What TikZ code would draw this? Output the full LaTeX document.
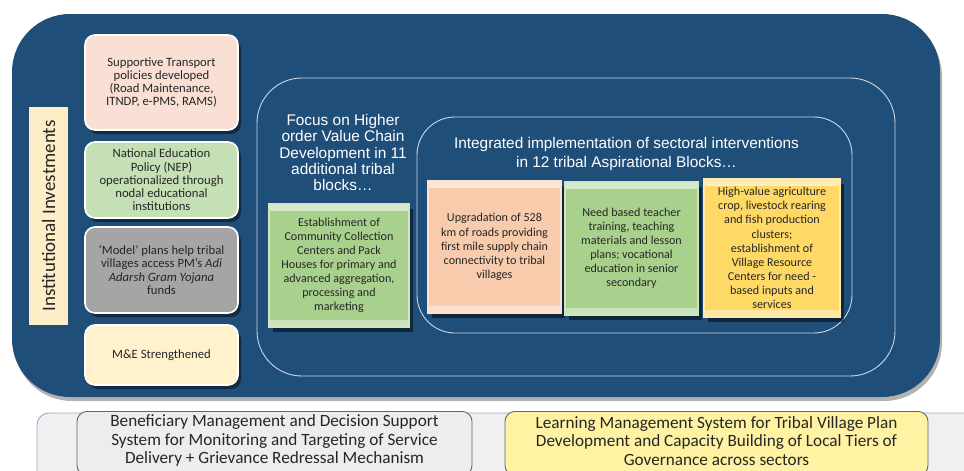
\documentclass[tikz,border=0pt]{standalone}
\usepackage{fontspec}
\setmainfont{Carlito}
\newfontfamily\arialf{Liberation Sans}
\usetikzlibrary{shadows}
\definecolor{bgblue}{RGB}{31,78,121}
\definecolor{greenb}{RGB}{169,209,142}
\definecolor{peachb}{RGB}{248,203,173}
\definecolor{yellowb}{RGB}{255,217,102}
\definecolor{lpeach}{RGB}{250,224,212}
\definecolor{lgreen}{RGB}{197,224,180}
\definecolor{lgray}{RGB}{165,165,165}
\definecolor{lcream}{RGB}{255,242,204}
\definecolor{labcream}{RGB}{253,238,200}
\definecolor{stripgray}{RGB}{240,240,240}
\definecolor{stripedge}{RGB}{143,170,205}
\definecolor{bgrayfill}{RGB}{237,237,237}
\definecolor{byellow}{RGB}{255,242,163}
\definecolor{frameline}{RGB}{205,214,226}
\definecolor{txt}{RGB}{38,38,38}
\begin{document}
\begin{tikzpicture}[x=1pt,y=-1pt,
  lbox/.style={rounded corners=10pt, fill=#1, draw=white, line width=1.6pt, align=center,
    font=\fontsize{12.7}{13.3}\selectfont, text=txt, minimum width=153pt, inner sep=1pt,
    drop shadow={shadow xshift=3pt, shadow yshift=-4pt, opacity=0.45, fill=black}},
  bevbox/.style={fill=#1, draw=#1!55!white, line width=1.2pt, align=center,
    font=\fontsize{12.1}{14.1}\selectfont, text=txt, inner sep=1pt,
    drop shadow={shadow xshift=4pt, shadow yshift=-5pt, opacity=0.5, fill=black},
    path picture={
      \fill[#1!45!white] (path picture bounding box.north west) rectangle ([yshift=-7pt]path picture bounding box.north east);
      \fill[#1!60!white] (path picture bounding box.south west) rectangle ([yshift=7pt]path picture bounding box.south east);}},
  frame/.style={draw=frameline, line width=0.9pt},
  title/.style={align=center, text=white, font=\arialf\fontsize{15.4}{16.3}\selectfont, inner sep=0pt},
  botbox/.style={rounded corners=10pt, fill=#1, draw=black!60, line width=0.9pt, align=center,
    font=\fontsize{17.2}{18.6}\selectfont, text=txt, inner sep=0pt, minimum height=64pt}
]
\useasboundingbox (0,0) rectangle (964,471);
\clip (0,0) rectangle (964,471);

% main blue panel
\fill[bgblue, rounded corners=58pt, drop shadow={shadow xshift=2pt, shadow yshift=-4pt, opacity=0.3, fill=black}]
  (12,14) rectangle (940,397);

% frames
\draw[frame, rounded corners=45pt] (257,78) rectangle (895,376);
\draw[frame, rounded corners=38pt] (417,117) rectangle (852,333);

% vertical label
\node[fill=labcream, minimum width=39pt, minimum height=218pt, inner sep=0pt] (lab) at (48.5,216) {};
\node[rotate=90, text=txt, font=\fontsize{19}{21}\selectfont] (labtxt) at (lab.center) {Institutional Investments};

% left column boxes
\node[lbox=lpeach, minimum height=95pt] (t1) at (161.5,82.5)
  {Supportive Transport\\ policies developed\\ (Road Maintenance,\\ ITNDP, e-PMS, RAMS)};
\node[lbox=lgreen, minimum height=76pt] (t2) at (161.5,180)
  {National Education\\ Policy (NEP)\\ operationalized through\\ nodal educational\\ institutions};
\node[lbox=lgray, minimum height=86pt] (t3) at (161.5,270)
  {‘Model’ plans help tribal\\ villages access PM’s \textit{Adi}\\ \textit{Adarsh Gram Yojana}\\ funds};
\node[lbox=lcream, minimum height=60pt] (t4) at (161.5,355) {M\&E Strengthened};

% titles
\node[title] (focus) at (343,152.5)
  {Focus on Higher\\ order Value Chain\\ Development in 11\\ additional tribal\\ blocks…};
\node[title, font=\arialf\fontsize{15.4}{19}\selectfont] (integ) at (626.5,154.5)
  {Integrated implementation of sectoral interventions\\ in 12 tribal Aspirational Blocks…};

% middle boxes
\node[bevbox=greenb, minimum width=140pt, minimum height=123pt] (m1) at (339,265.5)
  {Establishment of\\ Community Collection\\ Centers and Pack\\ Houses for primary and\\ advanced aggregation,\\ processing and\\ marketing};
\node[bevbox=peachb, minimum width=133pt, minimum height=132pt] (m2) at (494.5,247)
  {Upgradation of 528\\ km of roads providing\\ first mile supply chain\\ connectivity to tribal\\ villages};
\node[bevbox=greenb, minimum width=133pt, minimum height=133pt] (m3) at (631.5,248.5)
  {Need based teacher\\ training, teaching\\ materials and lesson\\ plans; vocational\\ education in senior\\ secondary};
\node[bevbox=yellowb, minimum width=136pt, minimum height=138pt] (m4) at (772,248)
  {High-value agriculture\\ crop, livestock rearing\\ and fish production\\ clusters;\\ establishment of\\ Village Resource\\ Centers for need -\\ based inputs and\\ services};

% bottom strip
\draw[fill=stripgray, draw=stripedge, line width=0.9pt, rounded corners=12pt] (37,413) rectangle (1000,520);
\node[botbox=bgrayfill, minimum width=395pt, anchor=north] (b1) at (274.5,411)
  {\\[-12pt]Beneficiary Management and Decision Support\\ System for Monitoring and Targeting of Service\\ Delivery + Grievance Redressal Mechanism};
\node[botbox=byellow, minimum width=423pt, anchor=north] (b2) at (716.5,411)
  {\\[-12pt]Learning Management System for Tribal Village Plan\\ Development and Capacity Building of Local Tiers of\\ Governance across sectors};
\end{tikzpicture}
\end{document}
